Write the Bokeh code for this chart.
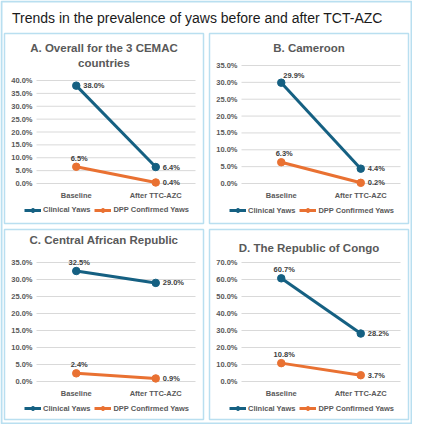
from bokeh.plotting import figure
from bokeh.models import (Legend, LegendItem, Label, LabelSet, PrintfTickFormatter,
                          ColumnDataSource, FixedTicker, Range1d, LinearAxis)
from bokeh.core.properties import value
from bokeh.embed import file_html
from bokeh.resources import INLINE

# ---------------- data ----------------
main_title = "Trends in the prevalence of yaws before and after TCT-AZC"
periods = ["Baseline", "After TTC-AZC"]
series_names = ["Clinical Yaws", "DPP Confirmed Yaws"]

title_A = ["A. Overall for the 3 CEMAC", "countries"]
clinical_A = [38.0, 6.4]
dpp_A = [6.5, 0.4]
ticks_A = [0, 5, 10, 15, 20, 25, 30, 35, 40]

title_B = ["B. Cameroon"]
clinical_B = [29.9, 4.4]
dpp_B = [6.3, 0.2]
ticks_B = [0, 5, 10, 15, 20, 25, 30, 35]

title_C = ["C. Central African Republic"]
clinical_C = [32.5, 29.0]
dpp_C = [2.4, 0.9]
ticks_C = [0, 5, 10, 15, 20, 25, 30, 35]

title_D = ["D. The Republic of Congo"]
clinical_D = [60.7, 28.2]
dpp_D = [10.8, 3.7]
ticks_D = [0, 10, 20, 30, 40, 50, 60, 70]

# ---------------- styles / layout ----------------
CLIN = "#156082"
DPP = "#E97132"
GREY = "#595959"
LABEL = "#404040"
GRID = "#d9d9d9"
BORDER = "#b9dff0"
FONT = "Liberation Sans"

W, H = 412, 424
PANEL_W, PANEL_H = 199, 190
FL, FR = 32, 191                      # frame left/right inside a panel
panels = [
    # left, top, frame top, frame bottom, title centres, legend centre
    dict(left=4, top=33, ft=47, fb=150, ty=[14.5, 29], ly=176.5),
    dict(left=209, top=33, ft=32, fb=150, ty=[14.5], ly=177),
    dict(left=4, top=229, ft=33, fb=152, ty=[10.6], ly=179),
    dict(left=209, top=229, ft=33, fb=152, ty=[18], ly=179),
]
label_pos = [
    (["right", "right"], ["above", "right"]),
    (["aboveright", "right"], ["above", "right"]),
    (["above", "right"], ["above", "right"]),
    (["above", "right"], ["above", "right"]),
]
OFFS = {"right": (7, 0, "left", "middle"),
        "above": (3, 4, "center", "bottom"),
        "aboveright": (2, 3, "left", "bottom")}

titles = [title_A, title_B, title_C, title_D]
clinicals = [clinical_A, clinical_B, clinical_C, clinical_D]
dpps = [dpp_A, dpp_B, dpp_C, dpp_D]
tick_sets = [ticks_A, ticks_B, ticks_C, ticks_D]

xpos = [i + 0.5 for i in range(len(periods))]

p = figure(width=W, height=H, x_range=Range1d(0, W), y_range=Range1d(0, H),
           x_axis_type=None, y_axis_type=None, title=None, tools="",
           toolbar_location=None, min_border=0, outline_line_color=None,
           output_backend="svg")

# outer frame and panel frames
p.quad(left=[1], right=[W - 1], top=[H - 1], bottom=[1], fill_color=None,
       line_color=BORDER, line_width=2)
p.quad(left=[d["left"] for d in panels], right=[d["left"] + PANEL_W for d in panels],
       top=[H - d["top"] for d in panels], bottom=[H - d["top"] - PANEL_H for d in panels],
       fill_color=None, line_color=BORDER, line_width=1.5)

p.add_layout(Label(x=11.5, y=H - 17, text=main_title, text_align="left",
                   text_baseline="middle", text_font_size="14px", text_color="#1a1a1a",
                   text_font=FONT))

for k, d in enumerate(panels):
    ticks = tick_sets[k]
    ymax = ticks[-1]
    xn, yn = f"x{k}", f"y{k}"
    X0 = d["left"] + FL
    X1 = d["left"] + FR
    sx = (X1 - X0) / len(periods)
    p.extra_x_ranges[xn] = Range1d(-X0 / sx, (W - X0) / sx)
    PT = d["top"] + d["ft"]
    PB = d["top"] + d["fb"]
    sy = (PB - PT) / ymax
    p.extra_y_ranges[yn] = Range1d(-(H - PB) / sy, PB / sy)

    # panel title
    for line, ty in zip(titles[k], d["ty"]):
        p.add_layout(Label(x=d["left"] + PANEL_W / 2, y=H - d["top"] - ty, text=line,
                           text_align="center", text_baseline="middle",
                           text_font_size="11.5px", text_font_style="bold",
                           text_color=GREY, text_font=FONT))

    # gridlines at tick values
    p.segment(x0=[0] * len(ticks), x1=[len(periods)] * len(ticks), y0=ticks, y1=ticks,
              x_range_name=xn, y_range_name=yn, line_color=GRID, line_width=1)

    # axes
    yax = LinearAxis(x_range_name=xn, y_range_name=yn, fixed_location=0,
                     ticker=FixedTicker(ticks=ticks),
                     formatter=PrintfTickFormatter(format="%.1f%%"))
    xax = LinearAxis(x_range_name=xn, y_range_name=yn, fixed_location=0,
                     ticker=FixedTicker(ticks=xpos),
                     major_label_overrides={x: lab for x, lab in zip(xpos, periods)})
    for ax in (yax, xax):
        ax.axis_line_color = None
        ax.major_tick_line_color = None
        ax.minor_tick_line_color = None
        ax.major_tick_out = 0
        ax.major_tick_in = 0
        ax.minor_tick_out = 0
        ax.major_label_text_font_size = "7.5px"
        ax.major_label_text_font_style = "bold"
        ax.major_label_text_color = GREY
        ax.major_label_text_font = FONT
    yax.major_label_standoff = 4
    xax.major_label_standoff = 7
    p.add_layout(yax, "left")
    p.add_layout(xax, "below")

    # series
    clin, dpp = clinicals[k], dpps[k]
    r1 = p.line(xpos, clin, x_range_name=xn, y_range_name=yn, line_color=CLIN, line_width=3)
    s1 = p.scatter(xpos, clin, x_range_name=xn, y_range_name=yn, size=7.5,
                   fill_color=CLIN, line_color=CLIN)
    r2 = p.line(xpos, dpp, x_range_name=xn, y_range_name=yn, line_color=DPP, line_width=3)
    s2 = p.scatter(xpos, dpp, x_range_name=xn, y_range_name=yn, size=7.5,
                   fill_color=DPP, line_color=DPP)

    # data labels
    for vals, places in ((clin, label_pos[k][0]), (dpp, label_pos[k][1])):
        for xv, v, pl in zip(xpos, vals, places):
            dx, dy, al, bl = OFFS[pl]
            src = ColumnDataSource(dict(x=[xv], y=[v], t=[f"{v:.1f}%"]))
            p.add_layout(LabelSet(x="x", y="y", text="t", source=src,
                                  x_range_name=xn, y_range_name=yn,
                                  x_offset=dx, y_offset=dy, text_align=al,
                                  text_baseline=bl, text_font_size="7.5px",
                                  text_font_style="bold", text_color=LABEL,
                                  text_font=value(FONT)))

    # legend
    leg = Legend(items=[LegendItem(label=series_names[0], renderers=[r1, s1]),
                        LegendItem(label=series_names[1], renderers=[r2, s2])],
                 location=(d["left"] + 20, H - d["top"] - d["ly"] - 5),
                 orientation="horizontal",
                 label_text_font_size="7.5px", label_text_font_style="bold",
                 label_text_color=GREY, label_text_font=FONT,
                 label_height=10, glyph_width=17, glyph_height=10,
                 spacing=4, padding=0, margin=0, label_standoff=2,
                 border_line_color=None, background_fill_alpha=0)
    p.add_layout(leg)

open("out.html", "w").write(file_html(p, INLINE))
